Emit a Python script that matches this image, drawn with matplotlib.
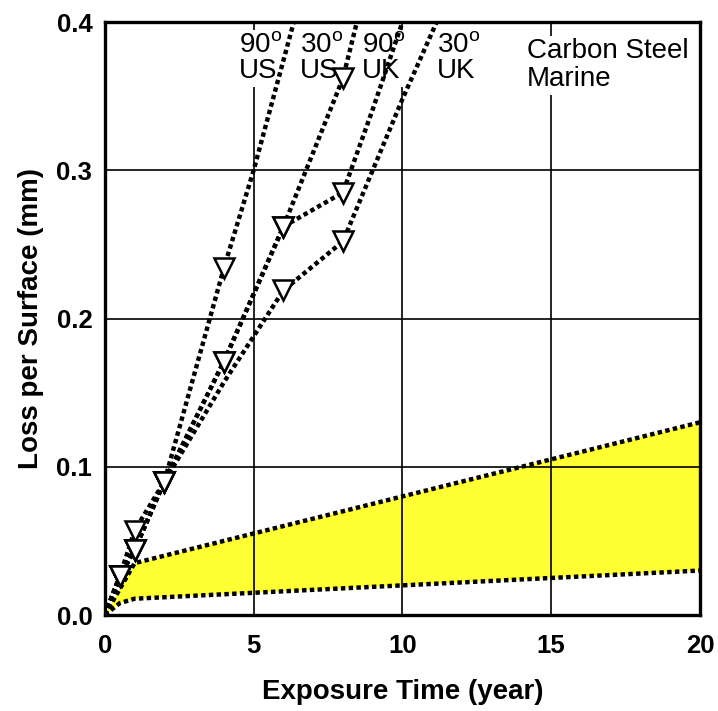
import matplotlib
matplotlib.use("Agg")
import matplotlib.pyplot as plt
import numpy as np

plt.rcParams['font.family'] = ['Liberation Sans', 'DejaVu Sans']
plt.rcParams['mathtext.fontset'] = 'custom'
plt.rcParams['mathtext.rm'] = 'Liberation Sans'
plt.rcParams['mathtext.it'] = 'Liberation Sans:italic'
plt.rcParams['mathtext.bf'] = 'Liberation Sans:bold'

# Measured thickness loss per surface (mm) vs exposure time (year)
us90_t = [0.5, 1, 2, 4]
us90_loss = [0.026, 0.057, 0.090, 0.234]
us30_t = [0.5, 1, 2, 4, 6, 8]
us30_loss = [0.026, 0.044, 0.090, 0.171, 0.262, 0.362]
uk90_t = [0.5, 1, 2, 4, 6, 8]
uk90_loss = [0.026, 0.044, 0.090, 0.171, 0.262, 0.285]
uk30_t = [0.5, 1, 2, 6, 8]
uk30_loss = [0.026, 0.044, 0.090, 0.219, 0.252]

# Trend curves for each exposure
us90_line_t = [0, 0.5, 1, 2, 4, 5, 6.35]
us90_line = [0, 0.026, 0.057, 0.090, 0.234, 0.300, 0.400]
us30_line_t = [0, 0.5, 1, 2, 4, 6, 8, 8.47]
us30_line = [0, 0.026, 0.044, 0.090, 0.171, 0.262, 0.362, 0.400]
uk90_line_t = [0, 0.5, 1, 2, 4, 6, 8, 9, 10]
uk90_line = [0, 0.026, 0.044, 0.090, 0.171, 0.262, 0.285, 0.341, 0.400]
uk30_line_t = [0, 0.5, 1, 2, 4, 6, 8, 10, 11.15]
uk30_line = [0, 0.026, 0.044, 0.090, 0.157, 0.219, 0.252, 0.348, 0.400]

# Envelope of typical carbon steel marine corrosion
band_hi_t = [0, 1, 20]
band_hi = [0, 0.035, 0.130]
band_lo_t = [0, 0.5, 1, 20]
band_lo = [0, 0.008, 0.011, 0.030]

labels = ["90$^{\\rm o}$\nUS", "30$^{\\rm o}$\nUS", "90$^{\\rm o}$\nUK", "30$^{\\rm o}$\nUK"]
label_x = [4.50, 6.55, 8.64, 11.16]

fig = plt.figure(figsize=(7.18, 7.11), dpi=100)
ax = fig.add_axes([0.146, 0.135, 0.829, 0.834])

dot = dict(color='black', lw=3.2, ls=(0, (1.0, 0.75)), dash_capstyle='butt', zorder=2)

poly_t = np.concatenate([band_hi_t, band_lo_t[::-1]])
poly_y = np.concatenate([band_hi, band_lo[::-1]])
ax.fill(poly_t, poly_y, color='#ffff33', lw=0, zorder=0.3)
ax.plot(band_hi_t, band_hi, **dot)
ax.plot(band_lo_t, band_lo, **dot)

for lt, ly in [(us90_line_t, us90_line), (us30_line_t, us30_line),
               (uk90_line_t, uk90_line), (uk30_line_t, uk30_line)]:
    ax.plot(lt, ly, **dot)

mk = dict(ls='none', marker='v', ms=15, mfc='white', mec='black', mew=1.8, zorder=3)
for t, y in [(us90_t, us90_loss), (us30_t, us30_loss), (uk90_t, uk90_loss), (uk30_t, uk30_loss)]:
    ax.plot(t, y, **mk)

box = dict(fc='white', ec='none', pad=2)
for s, x in zip(labels, label_x):
    ax.text(x, 0.393, s, ha='left', va='top', fontsize=20, linespacing=1.0,
            bbox=box, zorder=1.5)
ax.text(14.18, 0.389, "Carbon Steel\nMarine", ha='left', va='top', fontsize=20,
        linespacing=1.1, bbox=box, zorder=1.5)

ax.set_xlim(0, 20)
ax.set_ylim(0, 0.4)
ax.set_xticks([0, 5, 10, 15, 20])
ax.set_yticks([0.0, 0.1, 0.2, 0.3, 0.4])
ax.set_yticklabels(['0.0', '0.1', '0.2', '0.3', '0.4'])
ax.set_axisbelow(True)
ax.grid(True, color='black', lw=1.2)
ax.tick_params(axis='both', length=0, labelsize=18.5)
ax.tick_params(axis='x', pad=14)
ax.tick_params(axis='y', pad=9)
for lab in ax.get_xticklabels() + ax.get_yticklabels():
    lab.set_fontweight('bold')
for sp in ax.spines.values():
    sp.set_linewidth(2.4)
    sp.set_color('black')
    sp.set_zorder(4)

ax.set_xlabel("Exposure Time (year)", fontsize=20, fontweight='bold', labelpad=15)
ax.set_ylabel("Loss per Surface (mm)", fontsize=20, fontweight='bold', labelpad=9)

fig.savefig("out.png", dpi=100)
